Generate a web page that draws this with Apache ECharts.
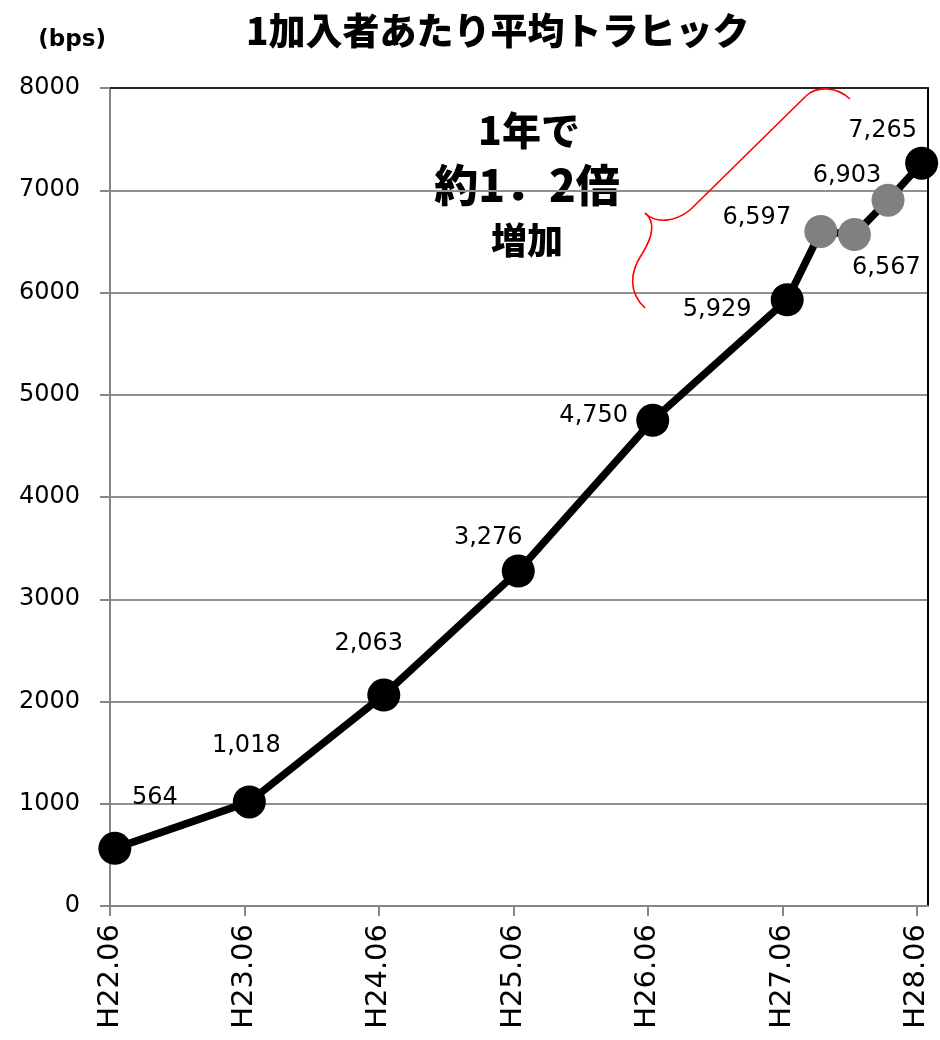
<!DOCTYPE html>
<html lang="ja">
<head>
<meta charset="utf-8">
<title>1加入者あたり平均トラヒック</title>
<script src="https://cdn.jsdelivr.net/npm/echarts@6/dist/echarts.min.js"></script>
<style>
  html, body { margin: 0; padding: 0; background: #fff; }
  #chart { width: 940px; height: 1040px; }
</style>
</head>
<body>
<div id="chart"></div>
<script>
// Survey periods (Heisei year.month) and average traffic per subscriber (bps)
const periods = ['H22.06', 'H23.06', 'H24.06', 'H25.06', 'H26.06', 'H27.06', 'H27.09', 'H27.12', 'H28.03', 'H28.06'];
const traffic = [564, 1018, 2063, 3276, 4750, 5929, 6597, 6567, 6903, 7265];

// Year-end tick labels on the time axis
const tickLabels = ['H22.06', 'H23.06', 'H24.06', 'H25.06', 'H26.06', 'H27.06', 'H28.06'];

// Y axis range
const yMin = 0, yMax = 8000, yStep = 1000;

// Label placement around each marker (offset in px from the point)
const labelOffsets = [[40, -51], [-3, -56], [-15, -51], [-30, -33], [-59, -5], [-70, 10], [-64, -14], [32, 33], [-41, -24], [-39, -32]];

// Time axis is measured in months from H22.06; surveys are taken mid-month
const surveyDay = 14;
function monthsFromStart(p) {
  const year = parseInt(p.slice(1, 3), 10);
  const month = parseInt(p.slice(4), 10);
  return (year - 22) * 12 + (month - 6) + (surveyDay - 1) / 30;
}
const tickMonths = tickLabels.map((_, i) => i * 12);

const numFont = 'DejaVu Sans';
const jpFont = '"Noto Sans CJK JP", sans-serif';

const seriesData = periods.map((p, i) => {
  const annual = p.endsWith('.06');
  return {
    value: [monthsFromStart(p), traffic[i]],
    itemStyle: { color: annual ? '#000000' : '#808080' },
    label: { offset: labelOffsets[i] }
  };
});

// Red curly brace drawn as cubic segments plus one straight run
const braceStyle = { fill: 'none', stroke: '#ff0000', lineWidth: 1.6 };
const braceCurves = [
  [645, 308, 628, 292, 630, 272, 642, 254],
  [642, 254, 652, 238, 656, 222, 645, 213],
  [645, 213, 656, 224, 675, 222, 690, 210],
  [806, 96, 816, 86, 836, 86, 850, 99]
];
const braceGraphics = braceCurves.map(c => ({
  type: 'bezierCurve',
  shape: { x1: c[0], y1: c[1], cpx1: c[2], cpy1: c[3], cpx2: c[4], cpy2: c[5], x2: c[6], y2: c[7] },
  style: braceStyle,
  z: 10
}));
braceGraphics.push({
  type: 'line',
  shape: { x1: 690, y1: 210, x2: 806, y2: 96 },
  style: braceStyle,
  z: 10
});

const chart = echarts.init(document.getElementById('chart'), null, { renderer: 'canvas' });

chart.setOption({
  animation: false,
  backgroundColor: '#ffffff',
  title: {
    text: '1加入者あたり平均トラヒック',
    left: 241,
    top: 7,
    textStyle: { fontFamily: jpFont, fontWeight: 900, fontSize: 37, color: '#000' }
  },
  grid: { left: 110, right: 12, top: 88, bottom: 134, containLabel: false },
  xAxis: [
    {
      type: 'value',
      min: 0,
      max: 73,
      axisLine: { show: true, lineStyle: { color: '#868686', width: 2 } },
      axisTick: { show: true, customValues: tickMonths, length: 10, inside: false, lineStyle: { color: '#868686', width: 2 } },
      axisLabel: {
        customValues: tickMonths,
        rotate: 90,
        margin: 18,
        color: '#000',
        fontFamily: numFont,
        fontSize: 29,
        formatter: v => tickLabels[Math.round(v / 12)] || ''
      },
      splitLine: { show: false }
    },
    {
      type: 'value',
      position: 'top',
      min: 0,
      max: 73,
      axisLine: { show: true, onZero: false, lineStyle: { color: '#000', width: 1.5 } },
      axisTick: { show: false },
      axisLabel: { show: false },
      splitLine: { show: false }
    }
  ],
  yAxis: [
    {
      type: 'value',
      min: yMin,
      max: yMax,
      interval: yStep,
      name: '(bps)',
      nameLocation: 'end',
      nameGap: 36,
      nameTextStyle: { fontFamily: numFont, fontWeight: 'bold', fontSize: 23, color: '#000', align: 'right', padding: [0, 4, 0, 0] },
      axisLine: { show: true, lineStyle: { color: '#868686', width: 2 } },
      axisTick: { show: true, length: 10, inside: false, lineStyle: { color: '#868686', width: 2 } },
      axisLabel: { margin: 30, color: '#000', fontFamily: numFont, fontSize: 24, formatter: v => String(v) },
      splitLine: { show: true, lineStyle: { color: '#8f8f8f', width: 2 } }
    },
    {
      type: 'value',
      position: 'right',
      min: yMin,
      max: yMax,
      interval: yStep,
      axisLine: { show: true, onZero: false, lineStyle: { color: '#000', width: 2 } },
      axisTick: { show: false },
      axisLabel: { show: false },
      splitLine: { show: false }
    }
  ],
  series: [
    {
      type: 'line',
      xAxisIndex: 0,
      yAxisIndex: 0,
      data: seriesData,
      symbol: 'circle',
      symbolSize: 33,
      lineStyle: { color: '#000', width: 7.5 },
      itemStyle: { borderWidth: 0 },
      label: {
        show: true,
        position: 'inside',
        fontFamily: numFont,
        fontSize: 24,
        color: '#000',
        formatter: p => p.value[1].toLocaleString('en-US')
      },
      z: 5
    }
  ],
  graphic: [
    {
      type: 'text',
      style: {
        x: 529, y: 130,
        text: '1年で',
        font: '900 39px ' + jpFont,
        fill: '#000',
        align: 'center',
        verticalAlign: 'middle'
      }
    },
    {
      type: 'text',
      style: {
        x: 527, y: 185,
        text: '約1．2倍',
        font: '900 44px ' + jpFont,
        fill: '#000',
        align: 'center',
        verticalAlign: 'middle'
      }
    },
    {
      type: 'text',
      style: {
        x: 527, y: 240,
        text: '増加',
        font: '900 36px ' + jpFont,
        fill: '#000',
        align: 'center',
        verticalAlign: 'middle'
      }
    }
  ].concat(braceGraphics)
});
</script>
</body>
</html>
